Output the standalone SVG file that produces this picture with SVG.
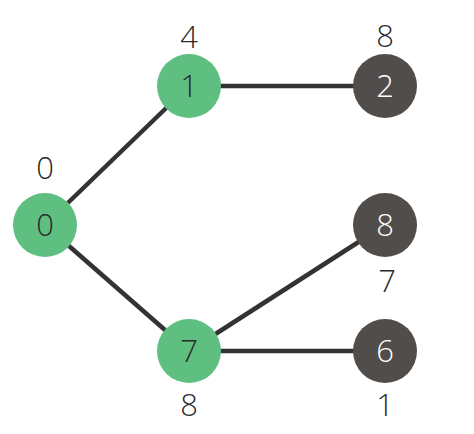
<svg xmlns="http://www.w3.org/2000/svg" width="474" height="434" viewBox="0 0 474 434">
<style>
.e{stroke:#333333;stroke-width:4.5;fill:none}
.g{fill:#5EBF81}
.d{fill:#514D4B}
text{font-family:"Open Sans","Noto Sans",sans-serif;font-size:31px;font-weight:300;text-anchor:middle}
.tg{fill:#2b2b2b}
.tw{fill:#ffffff}
.lab{fill:#2b2b2b}
</style>
<rect width="474" height="434" fill="#ffffff"/>
<g id="edges">
<line class="e" x1="45" y1="225" x2="189" y2="86"/>
<line class="e" x1="45" y1="225" x2="189" y2="351"/>
<line class="e" x1="189" y1="86" x2="385" y2="86"/>
<line class="e" x1="189" y1="351" x2="385" y2="225"/>
<line class="e" x1="189" y1="351" x2="385" y2="351"/>
</g>
<g id="node0"><circle class="g" cx="45" cy="225" r="32"/><text class="tg" x="45" y="236">0</text><text class="lab" x="45" y="179">0</text></g>
<g id="node1"><circle class="g" cx="189" cy="86" r="32"/><text class="tg" x="189" y="97">1</text><text class="lab" x="189" y="48">4</text></g>
<g id="node2"><circle class="d" cx="385" cy="86" r="32"/><text class="tw" x="385" y="97">2</text><text class="lab" x="385" y="47">8</text></g>
<g id="node8"><circle class="d" cx="385" cy="225" r="32"/><text class="tw" x="385" y="236">8</text><text class="lab" x="387" y="292">7</text></g>
<g id="node7"><circle class="g" cx="189" cy="351" r="32"/><text class="tg" x="189" y="362">7</text><text class="lab" x="189" y="416">8</text></g>
<g id="node6"><circle class="d" cx="385" cy="351" r="32"/><text class="tw" x="385" y="362">6</text><text class="lab" x="385" y="416">1</text></g>
</svg>
